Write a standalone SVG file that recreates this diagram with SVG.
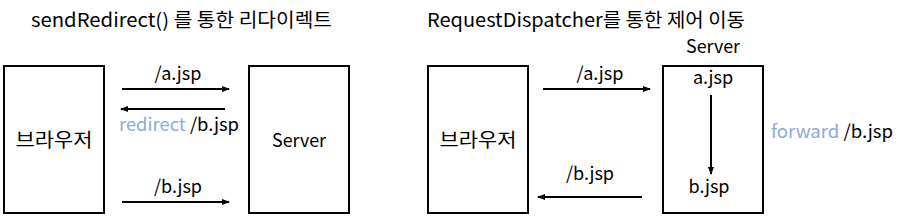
<svg xmlns="http://www.w3.org/2000/svg" width="900" height="219" viewBox="0 0 900 219">
<style>
text{font-family:"Noto Sans CJK KR","Noto Sans",sans-serif;font-size:18px;fill:#000}
.t{font-size:19px}
.k{font-size:19.5px}
.blue{fill:#8eaadb}
.box{fill:#fff;stroke:#000;stroke-width:2}
.ln{stroke:#000;stroke-width:2;fill:none;marker-end:url(#ah)}
.c{text-anchor:middle}
</style>
<defs>
<marker id="ah" markerWidth="8" markerHeight="6" refX="7" refY="3" orient="auto" markerUnits="userSpaceOnUse">
<path d="M0,0 L8,3 L0,6 Z" fill="#000"/>
</marker>
</defs>
<rect width="900" height="219" fill="#fff"/>
<g id="title-left"><text class="t" x="31" y="27" textLength="301" lengthAdjust="spacingAndGlyphs">sendRedirect() 를 통한 리다이렉트</text></g>
<g id="title-right"><text class="t" x="427" y="27" textLength="318" lengthAdjust="spacingAndGlyphs">RequestDispatcher를 통한 제어 이동</text></g>
<g id="browser-left"><rect class="box" x="4" y="66" width="100" height="147"/><text class="c k" x="54" y="147" textLength="77" lengthAdjust="spacingAndGlyphs">브라우저</text></g>
<g id="server-left"><rect class="box" x="249" y="66" width="100" height="147"/><text class="c" x="299" y="147" textLength="54" lengthAdjust="spacingAndGlyphs">Server</text></g>
<g id="browser-right"><rect class="box" x="428" y="66" width="100" height="147"/><text class="c k" x="478" y="147" textLength="77" lengthAdjust="spacingAndGlyphs">브라우저</text></g>
<g id="server-right"><text class="c" x="713" y="53" textLength="54" lengthAdjust="spacingAndGlyphs">Server</text><rect class="box" x="663" y="66" width="100" height="147"/>
<text class="c" x="713" y="84">a.jsp</text><text class="c" x="709" y="193">b.jsp</text></g>
<g id="connectors">
<line class="ln" x1="122" y1="89" x2="229" y2="89"/>
<line class="ln" x1="225" y1="109" x2="121" y2="109"/>
<line class="ln" x1="122" y1="202" x2="229" y2="202"/>
<line class="ln" x1="543" y1="89" x2="650" y2="89"/>
<line class="ln" x1="642" y1="197" x2="538" y2="197"/>
<line class="ln" x1="711" y1="95" x2="711" y2="174"/>
</g>
<g id="labels">
<text class="c" x="178" y="80">/a.jsp</text>
<text x="119" y="131" textLength="120" lengthAdjust="spacingAndGlyphs"><tspan class="blue">redirect</tspan> /b.jsp</text>
<text class="c" x="178" y="193">/b.jsp</text>
<text class="c" x="600" y="80">/a.jsp</text>
<text class="c" x="590" y="180">/b.jsp</text>
<text x="771" y="138" textLength="122" lengthAdjust="spacingAndGlyphs"><tspan class="blue">forward</tspan> /b.jsp</text>
</g>
</svg>
